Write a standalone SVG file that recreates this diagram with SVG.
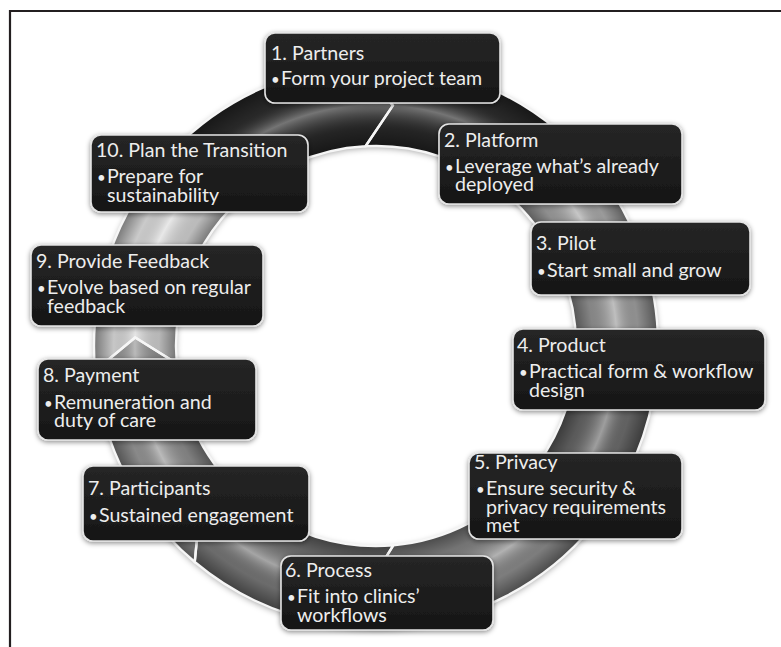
<svg xmlns="http://www.w3.org/2000/svg" xmlns:xlink="http://www.w3.org/1999/xlink" width="781" height="647" viewBox="0 0 781 647">
<style>
.box{fill:url(#boxg);stroke:#e4e4e4;stroke-width:1.6;filter:url(#bshadow)}
.t{font-family:Lato,"Open Sans","Liberation Sans",sans-serif;font-size:19.6px;fill:#ededed}
.b{font-size:15px}
.seg-line{fill:none;stroke:#f6f6f6;stroke-width:2.4;stroke-linejoin:miter}
</style>
<defs>
<linearGradient id="boxg" x1="0" y1="0" x2="0" y2="1">
<stop offset="0" stop-color="#262626"/>
<stop offset="1" stop-color="#161616"/>
</linearGradient>
<radialGradient id="tube" gradientUnits="userSpaceOnUse" cx="376" cy="346" r="282">
<stop offset="0.70" stop-color="#000" stop-opacity="0.5"/>
<stop offset="0.77" stop-color="#000" stop-opacity="0.15"/>
<stop offset="0.855" stop-color="#fff" stop-opacity="0.35"/>
<stop offset="0.93" stop-color="#000" stop-opacity="0.08"/>
<stop offset="1" stop-color="#000" stop-opacity="0.45"/>
</radialGradient>
<filter id="bshadow" x="-10%" y="-15%" width="120%" height="135%">
<feDropShadow dx="0" dy="1.5" stdDeviation="2.5" flood-color="#000" flood-opacity="0.45"/>
</filter>
<filter id="rshadow" x="-10%" y="-10%" width="120%" height="120%">
<feDropShadow dx="0" dy="2" stdDeviation="3" flood-color="#000" flood-opacity="0.35"/>
</filter>
<path id="s1" d="M361.24,64.39 A282,282 0 0 1 557.27,129.98 L552.26,181.64 L504.56,192.79 A200,200 0 0 0 365.53,146.27 L392.81,105.59 Z"/>
<path id="s2" d="M557.27,129.98 A282,282 0 0 1 637.46,240.36 L608.79,283.62 L561.44,271.08 A200,200 0 0 0 504.56,192.79 L552.26,181.64 Z"/>
<path id="s3" d="M637.46,240.36 A282,282 0 0 1 656.45,375.48 L610.82,400.21 L574.90,366.91 A200,200 0 0 0 561.44,271.08 L608.79,283.62 Z"/>
<path id="s4" d="M656.45,375.48 A282,282 0 0 1 592.02,527.27 L540.36,522.26 L529.21,474.56 A200,200 0 0 0 574.90,366.91 L610.82,400.21 Z"/>
<path id="s5" d="M592.02,527.27 A282,282 0 0 1 400.58,626.93 L367.59,586.85 L393.43,545.24 A200,200 0 0 0 529.21,474.56 L540.36,522.26 Z"/>
<path id="s6" d="M400.58,626.93 A282,282 0 0 1 194.73,562.02 L199.74,510.36 L247.44,499.21 A200,200 0 0 0 393.43,545.24 L367.59,586.85 Z"/>
<path id="s7" d="M194.73,562.02 A282,282 0 0 1 95.07,370.58 L135.15,337.59 L176.76,363.43 A200,200 0 0 0 247.44,499.21 L199.74,510.36 Z"/>
<path id="s8" d="M95.07,370.58 A282,282 0 0 1 103.61,273.01 L152.55,255.72 L182.81,294.24 A200,200 0 0 0 176.76,363.43 L135.15,337.59 Z"/>
<path id="s9" d="M103.61,273.01 A282,282 0 0 1 173.15,150.11 L224.33,158.71 L232.13,207.07 A200,200 0 0 0 182.81,294.24 L152.55,255.72 Z"/>
<path id="s10" d="M173.15,150.11 A282,282 0 0 1 361.24,64.39 L392.81,105.59 L365.53,146.27 A200,200 0 0 0 232.13,207.07 L224.33,158.71 Z"/>
</defs>
<rect x="0" y="0" width="781" height="647" fill="#fff"/>
<path d="M10,647 V11 H781" fill="none" stroke="#231f20" stroke-width="2.2"/>
<g id="connectors">
<g filter="url(#rshadow)">
<use xlink:href="#s1" fill="#2c2c2c"/>
<use xlink:href="#s2" fill="#a8a8a8"/>
<use xlink:href="#s3" fill="#9c9c9c"/>
<use xlink:href="#s4" fill="#6a6a6a"/>
<use xlink:href="#s5" fill="#888"/>
<use xlink:href="#s6" fill="#747474"/>
<use xlink:href="#s7" fill="#959595"/>
<use xlink:href="#s8" fill="#d8d8d8"/>
<use xlink:href="#s9" fill="#dcdcdc"/>
<use xlink:href="#s10" fill="#2a2a2a"/>
</g>
<g fill="url(#tube)">
<use xlink:href="#s1"/><use xlink:href="#s2"/><use xlink:href="#s3"/><use xlink:href="#s4"/><use xlink:href="#s5"/>
<use xlink:href="#s6"/><use xlink:href="#s7"/><use xlink:href="#s8"/><use xlink:href="#s9"/><use xlink:href="#s10"/>
</g>
<g class="seg-line">
<use xlink:href="#s1"/><use xlink:href="#s2"/><use xlink:href="#s3"/><use xlink:href="#s4"/><use xlink:href="#s5"/>
<use xlink:href="#s6"/><use xlink:href="#s7"/><use xlink:href="#s8"/><use xlink:href="#s9"/><use xlink:href="#s10"/>
</g>
</g>
<g id="node1">
<rect class="box" x="265" y="33" width="235" height="70" rx="10"/>
<text class="t" x="271" y="60">1. Partners</text>
<text class="t" x="271" y="85"><tspan class="b">•</tspan><tspan x="281">Form your project team</tspan></text>
</g>
<g id="node2">
<rect class="box" x="439" y="124" width="243" height="80" rx="10"/>
<text class="t" x="444" y="147">2. Platform</text>
<text class="t" x="445" y="173"><tspan class="b">•</tspan><tspan x="455">Leverage what’s already</tspan><tspan x="455" dy="18">deployed</tspan></text>
</g>
<g id="node3">
<rect class="box" x="531" y="222" width="219" height="73" rx="10"/>
<text class="t" x="536" y="250">3. Pilot</text>
<text class="t" x="537" y="277"><tspan class="b">•</tspan><tspan x="547">Start small and grow</tspan></text>
</g>
<g id="node4">
<rect class="box" x="513" y="329" width="252" height="81" rx="10"/>
<text class="t" x="517" y="352">4. Product</text>
<text class="t" x="519" y="378"><tspan class="b">•</tspan><tspan x="529">Practical form &amp; workflow</tspan><tspan x="529" dy="19">design</tspan></text>
</g>
<g id="node5">
<rect class="box" x="469" y="453" width="213" height="86" rx="10"/>
<text class="t" x="474" y="469">5. Privacy</text>
<text class="t" x="476" y="495"><tspan class="b">•</tspan><tspan x="486">Ensure security &amp;</tspan><tspan x="486" dy="18.5">privacy requirements</tspan><tspan x="486" dy="18.5">met</tspan></text>
</g>
<g id="node6">
<rect class="box" x="281" y="556" width="212" height="74" rx="10"/>
<text class="t" x="285" y="577">6. Process</text>
<text class="t" x="287" y="603"><tspan class="b">•</tspan><tspan x="297">Fit into clinics’</tspan><tspan x="297" dy="19">workflows</tspan></text>
</g>
<g id="node7">
<rect class="box" x="83" y="466" width="226" height="75" rx="10"/>
<text class="t" x="88" y="495">7. Participants</text>
<text class="t" x="89" y="522"><tspan class="b">•</tspan><tspan x="99">Sustained engagement</tspan></text>
</g>
<g id="node8">
<rect class="box" x="38" y="359" width="218" height="81" rx="10"/>
<text class="t" x="43" y="382">8. Payment</text>
<text class="t" x="44" y="409"><tspan class="b">•</tspan><tspan x="54">Remuneration and</tspan><tspan x="54" dy="18">duty of care</tspan></text>
</g>
<g id="node9">
<rect class="box" x="31" y="245" width="232" height="81" rx="10"/>
<text class="t" x="36" y="268">9. Provide Feedback</text>
<text class="t" x="37" y="294"><tspan class="b">•</tspan><tspan x="47">Evolve based on regular</tspan><tspan x="47" dy="19">feedback</tspan></text>
</g>
<g id="node10">
<rect class="box" x="91" y="135" width="217" height="77" rx="10"/>
<text class="t" x="96" y="157">10. Plan the Transition</text>
<text class="t" x="97" y="183"><tspan class="b">•</tspan><tspan x="107">Prepare for</tspan><tspan x="107" dy="19">sustainability</tspan></text>
</g>
</svg>
